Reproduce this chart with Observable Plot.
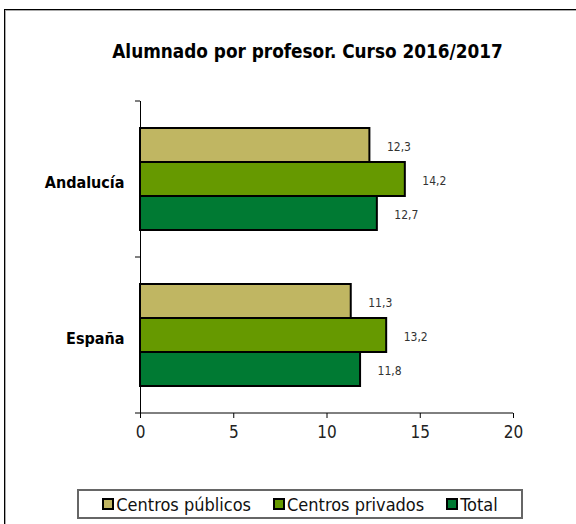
<!DOCTYPE html>
<html>
<head>
<meta charset="utf-8">
<script src="https://cdn.jsdelivr.net/npm/d3@7"></script>
<script src="https://cdn.jsdelivr.net/npm/@observablehq/plot@0.6"></script>
<style>
  body { margin: 0; background: #fff; }
  #wrap { position: relative; width: 576px; height: 524px; overflow: hidden; background: #fff;
    font-family: "Liberation Sans Narrow", "DejaVu Sans Condensed", "Liberation Sans", sans-serif; }
  #border { position: absolute; left: 4px; top: 9px; width: 700px; height: 700px;
    border-top: 1px solid #000; border-left: 1px solid #000; box-shadow: inset 1px 1px 0 #aaa; }
  #title { position: absolute; top: 40px; left: 307.5px; transform: translateX(-50%); white-space: nowrap;
    font-weight: bold; font-size: 18.8px; line-height: 24px; color: #000; }
  #chart { position: absolute; left: 0; top: 80px; }
  #legend { position: absolute; left: 77px; top: 489px; width: 442px; height: 26px;
    border: 2px solid #666; display: flex; align-items: center; justify-content: center; gap: 22px; }
  .item { display: flex; align-items: center; font-size: 18px; color: #111; }
  .sw { width: 8px; height: 8px; border: 2px solid #000; margin-right: 2px; }
</style>
</head>
<body>
<div id="wrap">
  <div id="border"></div>
  <div id="title"></div>
  <div id="chart"></div>
  <div id="legend"></div>
</div>
<script>
const titleText = "Alumnado por profesor. Curso 2016/2017";
const regions = ["Andalucía", "España"];
const series = ["Centros públicos", "Centros privados", "Total"];
const publicos = [12.3, 11.3];
const privados = [14.2, 13.2];
const total = [12.7, 11.8];
const colors = ["#C0B662", "#669900", "#007A33"];
const xTicks = [0, 5, 10, 15, 20];

const seriesValues = [publicos, privados, total];
const data = [];
regions.forEach((r, i) => {
  series.forEach((s, j) => data.push({region: r, series: s, value: seriesValues[j][i]}));
});

document.getElementById("title").textContent = titleText;

const fmt = v => v.toFixed(1).replace(".", ",");
const font = '"Liberation Sans Narrow", "DejaVu Sans Condensed", "Liberation Sans", sans-serif';

const plot = Plot.plot({
  width: 576,
  height: 380,
  marginTop: 20,
  marginBottom: 47,
  marginLeft: 140,
  marginRight: 63,
  style: {fontFamily: font, background: "transparent", overflow: "visible"},
  x: {domain: [0, 20], ticks: xTicks, label: null},
  fy: {domain: regions, padding: 0, label: null, axis: null},
  y: {domain: series, paddingInner: 0, paddingOuter: 0.74, axis: null},
  color: {domain: series, range: colors},
  marks: [
    Plot.barX(data, {x: "value", y: "series", fy: "region", fill: "series", stroke: "#000", strokeWidth: 2}),
    Plot.text(data, {x: "value", y: "series", fy: "region", text: d => fmt(d.value), dx: 17, dy: 2,
      textAnchor: "start", fontSize: 12, fill: "#333"}),
    Plot.ruleX([0], {stroke: "#000", strokeWidth: 1}),
    Plot.axisX({ticks: xTicks, tickSize: 5, tickPadding: 7, fontSize: 17, fill: "#222", stroke: "#000"}),
    Plot.axisFy({anchor: "left", tickSize: 0, tickPadding: 16, dy: 3, fontSize: 16, fontWeight: "bold", fill: "#000", label: null})
  ]
});
document.getElementById("chart").appendChild(plot);

// axis line and category boundary ticks from the plot's own scales
const sx = plot.scale("x"), sfy = plot.scale("fy");
const svg = d3.select(plot);
const x0 = sx.apply(0), x1 = sx.apply(20);
const bounds = regions.map(r => sfy.apply(r));
bounds.push(sfy.apply(regions[regions.length - 1]) + sfy.bandwidth);
svg.append("line").attr("x1", x0).attr("x2", x1)
  .attr("y1", bounds[bounds.length - 1]).attr("y2", bounds[bounds.length - 1])
  .attr("stroke", "#000");
bounds.forEach(b => {
  svg.append("line").attr("x1", x0 - 5).attr("x2", x0).attr("y1", b).attr("y2", b).attr("stroke", "#000");
});

const legend = document.getElementById("legend");
series.forEach((s, i) => {
  const it = document.createElement("div");
  it.className = "item";
  const sw = document.createElement("div");
  sw.className = "sw";
  sw.style.background = colors[i];
  const t = document.createElement("span");
  t.textContent = s;
  it.appendChild(sw); it.appendChild(t);
  legend.appendChild(it);
});
</script>
</body>
</html>
